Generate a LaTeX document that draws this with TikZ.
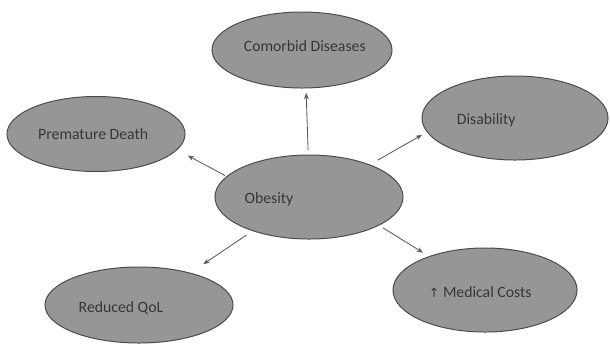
\documentclass[tikz,border=0pt]{standalone}
\usepackage{fontspec}
\setmainfont{Carlito}
\newfontfamily\uparrowfont{DejaVu Sans}
\usetikzlibrary{shapes.geometric,arrows.meta}
\definecolor{blobfill}{RGB}{150,150,150}
\definecolor{blobline}{RGB}{75,75,75}
\definecolor{blobtext}{RGB}{55,55,55}
\definecolor{arrowline}{RGB}{90,90,90}
\begin{document}
\begin{tikzpicture}[x=0.025cm,y=-0.025cm,inner sep=0pt,outer sep=0pt,
blob/.style={draw=blobline,fill=blobfill,ellipse,line width=0.7pt,minimum width=4.6cm,minimum height=2cm},
txt/.style={text=blobtext,font=\fontsize{11.2}{13}\selectfont},
link/.style={draw=arrowline,line width=0.6pt,-{Stealth[length=4.5pt,width=3.5pt]}}]
\useasboundingbox (0,0) rectangle (610,345);
\draw (309,197) node[blob,minimum width=4.7cm,minimum height=2.1cm,label={[txt,xshift=-1cm,yshift=-0.05cm]center:Obesity}] (obesity) {};
\draw (302,50) node[blob,minimum width=4.5cm,minimum height=1.9cm,label={[txt,xshift=0.07cm,yshift=0.1cm]center:Comorbid Diseases}] (comorbid) {};
\draw (96,134) node[blob,minimum width=4.45cm,minimum height=1.875cm,label={[txt,xshift=-0.07cm]center:Premature Death}] (death) {};
\draw (515,118) node[blob,minimum width=4.65cm,minimum height=2.1cm,label={[txt,xshift=-0.72cm,yshift=-0.05cm]center:Disability}] (disab) {};
\draw (139,305) node[blob,minimum width=4.7cm,minimum height=1.9cm,label={[txt,xshift=-0.45cm,yshift=-0.07cm]center:Reduced QoL}] (qol) {};
\draw (485,290) node[blob,minimum width=4.6cm,minimum height=2.1cm,label={[txt,xshift=-0.12cm,yshift=-0.05cm]center:{{\uparrowfont\small\char"2191} Medical Costs}}] (costs) {};
\draw[link,shorten <=0.125cm,shorten >=0.125cm] (obesity.91) -- (comorbid.-84);
\draw[link,shorten <=0.05cm,shorten >=0.31cm] (obesity.166) -- (death.-11.5);
\draw[link,shorten <=0.235cm,shorten >=0.15cm] (obesity.28.5) -- (disab.189.1);
\draw[link,shorten <=0.19cm,shorten >=0.4cm] (obesity.211.25) -- (qol.32.5);
\draw[link,shorten <=0.12cm,shorten >=0.185cm] (obesity.-22.4) -- (costs.149.7);
\end{tikzpicture}
\end{document}
